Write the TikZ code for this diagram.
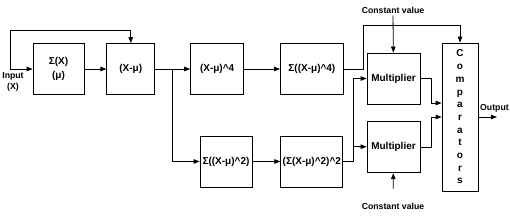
\documentclass[tikz,border=0pt]{standalone}
\usepackage{fontspec}
\setmainfont{Liberation Sans}
\usepackage{tikz}
\usetikzlibrary{arrows.meta,positioning,calc}
\tikzset{
  blk/.style={draw,line width=0.8pt,align=center,inner sep=1pt,minimum height=51pt,font=\bfseries\fontsize{10}{13.5}\selectfont},
  lbl/.style={align=center,inner sep=2pt,font=\bfseries\fontsize{8.7}{10.5}\selectfont},
  wire/.style={line width=0.8pt},
  arr/.style={-{Triangle[length=6pt,width=4.5pt]},line width=0.8pt}
}
\begin{document}
\begin{tikzpicture}[x=1pt,y=-1pt]
  \useasboundingbox (0,0) rectangle (510,219);
  %% upper row
  \node[blk,minimum width=51pt] (sx) at (58.5,69) {Σ(X)\\(μ)};
  \node[blk,minimum width=48pt,right=22pt of sx] (xm) {(X-μ)};
  \node[blk,minimum width=53pt,right=35pt of xm] (x4) {(X-μ)\^{}4};
  \node[blk,minimum width=63pt,right=36pt of x4] (s4) {Σ((X-μ)\^{}4)};
  %% lower row
  \node[blk,minimum width=52pt] (s2) at (226,161.5) {Σ((X-μ)\^{}2)};
  \node[blk,minimum width=62pt,right=28pt of s2] (q2) {(Σ(X-μ)\^{}2)\^{}2};
  %% multipliers and comparators
  \node[blk,minimum width=53pt] (m1) at (393.5,78.5) {Multiplier};
  \node[blk,minimum width=53pt,below=17pt of m1] (m2) {Multiplier};
  \node[blk,minimum width=36pt,minimum height=148pt,font=\bfseries\fontsize{10}{12.7}\selectfont] (cmp) at (460,117) {C\\o\\m\\p\\a\\r\\a\\t\\o\\r\\s};
  %% labels
  \node[lbl] (in) at (13,82) {Input\\(X)};
  \node[lbl] (c1) at (393,10) {Constant value};
  \node[lbl] (c2) at (393,206) {Constant value};
  \node[lbl,anchor=south west,inner sep=0pt] (outl) at (480,113) {Output};
  %% junctions
  \coordinate (src) at (10,69);
  \coordinate (fbtop) at (10,30);
  \coordinate (jn) at (172,69);
  \coordinate (s4up) at (363,25);
  \coordinate (qj) at (353,146.5);
  \coordinate (out) at (497,117);
  %% connectors
  \draw[arr] (src) -- (sx);
  \draw[arr] (src) -- (fbtop) -| (xm.north);
  \draw[arr] (sx) -- (xm);
  \draw[wire] (xm) -- (jn);
  \draw[arr] (jn) -- (x4);
  \draw[arr] (jn) |- (s2.west);
  \draw[arr] (x4) -- (s4);
  \draw[arr] (s2) -- (q2);
  \draw[arr] (s4.east) -| (s4up) -| (cmp.north);
  \draw[wire] (q2.east) -| (qj);
  \draw[arr] (qj) -- (m2);
  \draw[arr] (qj) |- (m1.west);
  \draw[arr] (c1) -- (m1);
  \draw[arr,shorten <=12pt] (c2) -- (m2);
  \draw[arr] (m1.east) -- ++(11,0) |- ($(cmp.west)+(0,-14)$);
  \draw[arr] (m2.east) -- ++(11,0) |- (cmp.west);
  \draw[arr] (cmp) -- (out);
\end{tikzpicture}
\end{document}
